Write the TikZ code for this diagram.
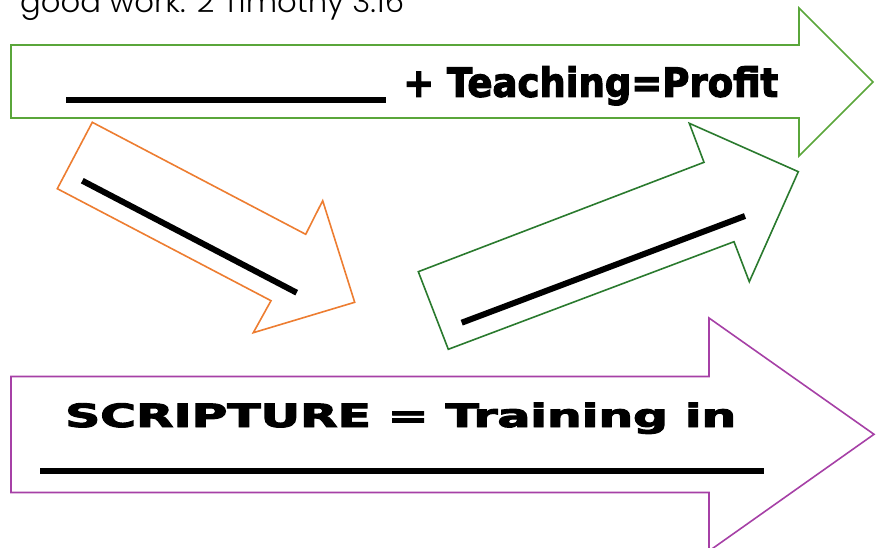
\documentclass[tikz,border=0pt]{standalone}
\usepackage{fontspec}
\usepackage{graphicx}
\setmainfont{DejaVu Sans}
\newfontfamily\heavy{DejaVu Sans Bold}[FakeBold=3]
\newfontfamily\thinfont{Poppins Light}
\definecolor{topgreen}{HTML}{5AA63A}
\definecolor{arrorange}{HTML}{ED7D31}
\definecolor{darkgreen}{HTML}{2A7A2E}
\definecolor{arrpurple}{HTML}{A640A6}
\tikzset{
  arrowshape/.style={line width=1.6pt, fill=white, line join=miter},
  blank/.style={line width=5.5pt, black},
  inblank/.style={line width=6pt, black},
  lbl/.style={inner sep=0pt, anchor=base west}
}
\begin{document}
\begin{tikzpicture}[x=1pt,y=-1pt]
\useasboundingbox (0,0) rectangle (879,548);
% caption, cut off at the top
\node[lbl] (cap) at (20,13) {\resizebox{384pt}{\height}{\thinfont\fontsize{30}{30}\selectfont good work. 2 Timothy 3:16}};
% top arrow
\draw[arrowshape, draw=topgreen] (11,45) -- (799,45) -- (799,8) -- (873,82) -- (799,156) -- (799,118) -- (11,118) -- cycle;
\coordinate (t1) at (66,100);
\coordinate (t2) at (386,100);
\draw[blank] (t1) -- (t2);
\node[lbl] (toptext) at (403,96.7) {\resizebox{375pt}{\height}{\heavy\fontsize{40}{40}\selectfont + Teaching=Profit}};
% orange arrow
\draw[arrowshape, draw=arrorange] (92.3,122.3) -- (305.7,234.3) -- (322.7,200.7) -- (354.7,302.3) -- (253.3,332.7) -- (271,300.7) -- (57.3,188.7) -- cycle;
\coordinate (o1) at (82.3,180.7);
\coordinate (o2) at (296.7,292.7);
\draw[inblank] (o1) -- (o2);
% dark green arrow
\draw[arrowshape, draw=darkgreen] (418.3,271.7) -- (704,162.3) -- (689.3,123.3) -- (798.3,171.7) -- (749.3,281.7) -- (734,241.7) -- (448.3,349.3) -- cycle;
\coordinate (g1) at (461.7,322.7);
\coordinate (g2) at (745,216);
\draw[inblank] (g1) -- (g2);
% purple arrow
\draw[arrowshape, draw=arrpurple] (11,376.5) -- (709,376.5) -- (709,318) -- (874,434.3) -- (709,551) -- (709,492.5) -- (11,492.5) -- cycle;
\node[lbl] (bottext) at (65,427) {\resizebox{671pt}{\height}{\heavy\fontsize{32}{32}\selectfont SCRIPTURE = Training in}};
\coordinate (b1) at (40,471);
\coordinate (b2) at (764,471);
\draw[blank] (b1) -- (b2);
\end{tikzpicture}
\end{document}
